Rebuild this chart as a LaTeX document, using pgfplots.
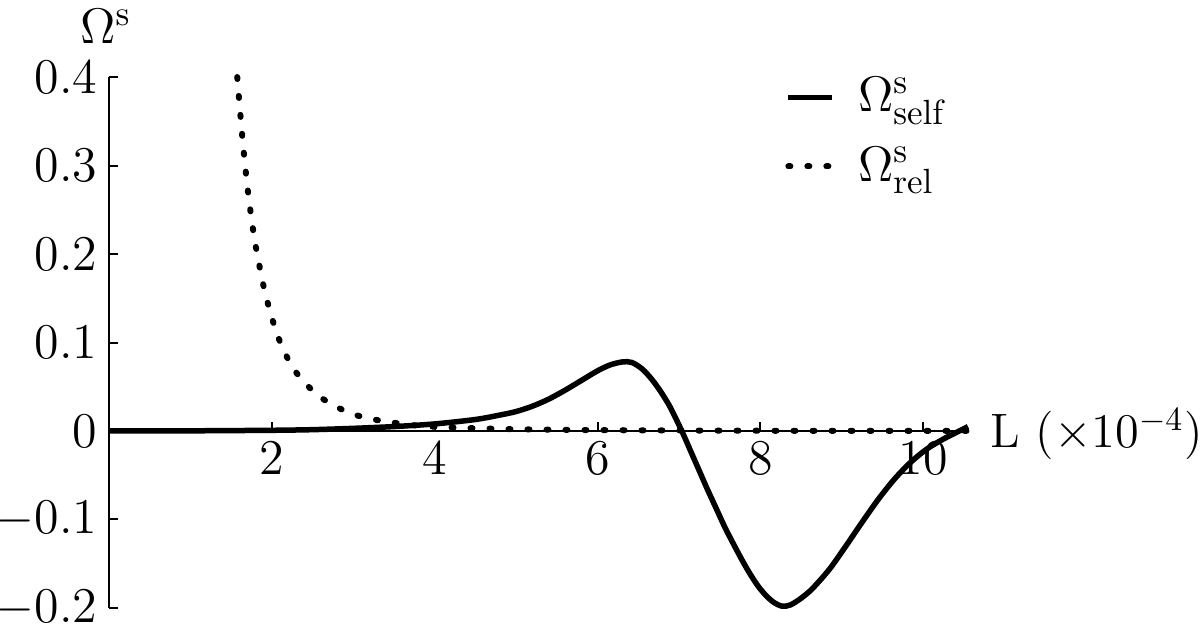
\RequirePackage{fix-cm}
\documentclass[border=0pt]{standalone}
\usepackage{pgfplots}
\pgfplotsset{compat=1.18}
\newcommand{\fs}{\fontsize{15}{18}\selectfont}
\begin{document}
\begin{tikzpicture}
\begin{axis}[
  scale only axis, width=257.7pt, height=159.3pt,
  xmin=0, xmax=10.55, ymin=-0.2, ymax=0.4,
  axis x line=middle, axis y line=left,
  axis line style={-, line width=0.6pt},
  xtick={2,4,6,8,10},
  ytick={-0.2,-0.1,0,0.1,0.2,0.3,0.4},
  yticklabels={$-0.2$,$-0.1$,$0$,$0.1$,$0.2$,$0.3$,$0.4$},
  hide obscured y ticks=false,
  tick align=inside, major tick length=2.7pt,
  tick style={line width=0.6pt, black},
  tick label style={font=\fs},
  every axis y label/.style={at={(axis description cs:0,1)}, anchor=south,
    yshift=6.5pt, xshift=-1pt, font=\fs},
  every axis x label/.style={at={(axis cs:10.55,0)}, anchor=base west,
    xshift=3.2pt, yshift=-5.1pt, font=\fontsize{14.5}{17}\selectfont},
  ylabel={$\Omega^{\mathrm{s}}$},
  xlabel={L ($\times10^{-4}$)},
  legend style={draw=none, fill=none, font=\fs,
    at={(axis description cs:0.775,1.025)}, anchor=north west,
    row sep=5pt},
  legend cell align=left,
  legend image code/.code={\draw[#1] (0pt,0pt) -- (13pt,0pt);
    \path (18pt,0pt);},
  clip=false,
]
\addplot[black, line width=1.65pt, smooth] coordinates {
 (0,0) (1.0,0.0002) (2.0,0.0008) (2.5,0.0015) (3.0,0.003) (3.5,0.005)
 (4.0,0.008) (4.5,0.013) (4.8,0.018) (5.0,0.022) (5.2,0.028) (5.4,0.036)
 (5.6,0.046) (5.8,0.057) (6.0,0.068) (6.15,0.0745) (6.3,0.078)
 (6.42,0.0775) (6.55,0.070) (6.67,0.058) (6.78,0.044) (6.88,0.029)
 (6.96,0.0145) (7.05,-0.003) (7.15,-0.024) (7.25,-0.045) (7.35,-0.066)
 (7.46,-0.088) (7.56,-0.108) (7.66,-0.126) (7.77,-0.145) (7.87,-0.161)
 (7.97,-0.175) (8.07,-0.186) (8.17,-0.194) (8.27,-0.198) (8.37,-0.1965)
 (8.50,-0.189) (8.64,-0.178) (8.85,-0.156) (9.05,-0.130) (9.25,-0.103)
 (9.45,-0.077) (9.65,-0.054) (9.85,-0.035) (10.05,-0.020) (10.25,-0.009)
 (10.40,-0.002) (10.55,0.005)};
\addlegendentry{$\Omega^{\mathrm{s}}_{\mathrm{self}}$}
\addplot[black, line width=1.8pt, line cap=round,
  dash pattern=on 0.6pt off 5.1pt, smooth] coordinates {
 (1.575,0.400) (1.60,0.372) (1.65,0.320) (1.70,0.276) (1.75,0.240)
 (1.80,0.210) (1.90,0.163) (2.00,0.128) (2.10,0.101) (2.20,0.081)
 (2.30,0.066) (2.43,0.052) (2.60,0.038) (2.80,0.027) (3.00,0.019)
 (3.20,0.014) (3.45,0.010) (3.80,0.006) (4.20,0.004) (5.00,0.002)
 (6.00,0.001) (8.00,0.0003) (10.55,0.0001)};
\addlegendentry{$\Omega^{\mathrm{s}}_{\mathrm{rel}}$}
\end{axis}
\pgfresetboundingbox
\path ([xshift=-32.7pt,yshift=-4.8pt]current axis.south west) rectangle ++(360pt,187.2pt);
\end{tikzpicture}
\end{document}
